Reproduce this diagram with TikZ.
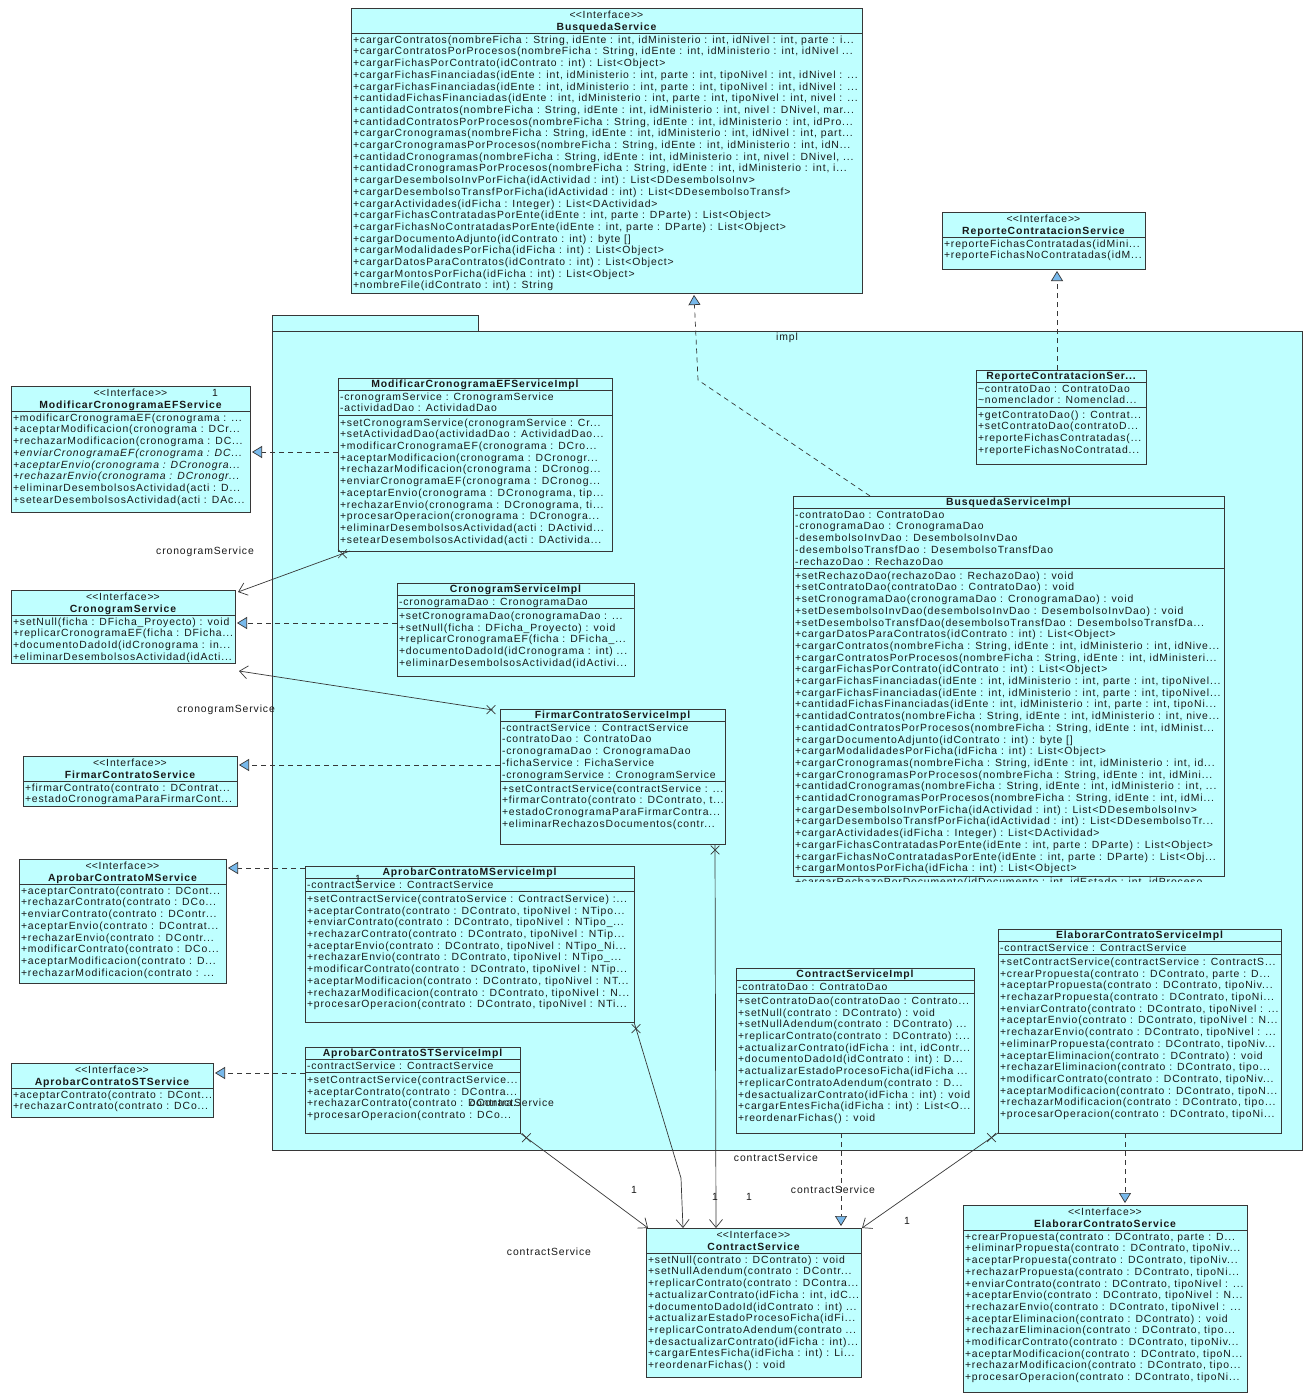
\documentclass[tikz,border=0pt]{standalone}
\usepackage{fontspec}
\setmainfont{Liberation Sans}[LetterSpace=8.5]
\usetikzlibrary{arrows.meta,calc,shapes.misc}

\definecolor{umlfill}{RGB}{191,255,255}
\definecolor{umlline}{RGB}{55,55,55}
\definecolor{umltext}{RGB}{25,25,25}
\definecolor{tipfill}{RGB}{120,185,235}

\newcommand\umlfont{\fontsize{10.4}{11.7}\selectfont}
\newcommand\lh{11.7}
\newcommand\trunc{...}
\newcommand\stereotype{<\kern0pt<Interface>\kern0pt>}

% one text line per member, stacked from a first centre line
\newcommand\memberlist[4]{%
  \foreach \mline [count=\mi] in {#4}{%
    \node[member] (#1-\mi) at (#2,{#3+(\mi-1)*\lh}) {\mline};%
  }%
}

% interface: id, x, y, width, height, name, operations
\newcommand\ifacebox[7]{%
  \node[classbox, minimum width=#4pt, minimum height=#5pt] (#1) at (#2,#3) {};
  \node[stereo] (#1-st) at ($(#1.north)+(0,7.5)$) {\stereotype};
  \node[cname] (#1-nm) at ($(#1.north)+(0,19)$) {#6};
  \draw[sepline] ($(#1.north west)+(0,25.5)$) -- ($(#1.north east)+(0,25.5)$);
  \begin{scope}
    \clip ($(#1.north west)+(0,26)$) rectangle ($(#1.south east)+(-1,0)$);
    \memberlist{#1-op}{#2+2}{#3+32}{#7}
  \end{scope}
}

% class: id, x, y, width, height, name, number of attributes, attributes, operations
\newcommand\implbox[9]{%
  \node[classbox, minimum width=#4pt, minimum height=#5pt] (#1) at (#2,#3) {};
  \node[cname] (#1-nm) at ($(#1.north)+(0,6.5)$) {#6};
  \draw[sepline] ($(#1.north west)+(0,12.5)$) -- ($(#1.north east)+(0,12.5)$);
  \draw[sepline] ($(#1.north west)+(0,{14+#7*\lh})$) -- ($(#1.north east)+(0,{14+#7*\lh})$);
  \begin{scope}
    \clip ($(#1.north west)+(0,13)$) rectangle ($(#1.south east)+(-1,0)$);
    \memberlist{#1-at}{#2+2}{#3+19}{#8}
    \memberlist{#1-op}{#2+2}{#3+21.5+#7*\lh}{#9}
  \end{scope}
}

\begin{document}
\begin{tikzpicture}[x=1pt,y=-1pt,
  classbox/.style={rectangle, draw=umlline, fill=umlfill, line width=0.8pt, inner sep=0pt, outer sep=0pt, anchor=north west},
  pkgbox/.style={classbox},
  member/.style={anchor=west, inner sep=0pt, outer sep=0pt, text height=8.5pt, text depth=2.1pt, font=\umlfont, text=umltext},
  cname/.style={member, anchor=center, font=\umlfont\bfseries},
  stereo/.style={member, anchor=center},
  lbl/.style={member, anchor=center},
  sepline/.style={draw=umlline, line width=0.8pt},
  realize/.style={draw=umlline, line width=0.7pt, dash pattern=on 5pt off 4pt, -{Triangle[length=10pt,width=12pt,fill=tipfill]}},
  assoc/.style={draw=umlline, line width=0.7pt, -{Straight Barb[length=8pt,width=13pt]}},
  xmark/.style={cross out, draw=umlline, line width=0.7pt, minimum size=8pt, inner sep=0pt}]

\useasboundingbox (0,0) rectangle (1315,1397);
\fill[white] (0,0) rectangle (1315,1397);

% package impl
\node[pkgbox, minimum width=206pt, minimum height=16pt] (impltab) at (272,315) {};
\node[pkgbox, minimum width=1030pt, minimum height=819pt] (impl) at (272,331) {};
\node[lbl] (impl-name) at ($(impl.north)+(0,6)$) {impl};

% interfaces
\ifacebox{bs}{351}{8}{511}{285}{BusquedaService}{%
{+cargarContratos(nombreFicha : String, idEnte : int, idMinisterio : int, idNivel : int, parte : i\trunc},
{+cargarContratosPorProcesos(nombreFicha : String, idEnte : int, idMinisterio : int, idNivel \trunc},
{+cargarFichasPorContrato(idContrato : int) : List<Object>},
{+cargarFichasFinanciadas(idEnte : int, idMinisterio : int, parte : int, tipoNivel : int, idNivel : \trunc},
{+cargarFichasFinanciadas(idEnte : int, idMinisterio : int, parte : int, tipoNivel : int, idNivel : \trunc},
{+cantidadFichasFinanciadas(idEnte : int, idMinisterio : int, parte : int, tipoNivel : int, nivel : \trunc},
{+cantidadContratos(nombreFicha : String, idEnte : int, idMinisterio : int, nivel : DNivel, mar\trunc},
{+cantidadContratosPorProcesos(nombreFicha : String, idEnte : int, idMinisterio : int, idPro\trunc},
{+cargarCronogramas(nombreFicha : String, idEnte : int, idMinisterio : int, idNivel : int, part\trunc},
{+cargarCronogramasPorProcesos(nombreFicha : String, idEnte : int, idMinisterio : int, idN\trunc},
{+cantidadCronogramas(nombreFicha : String, idEnte : int, idMinisterio : int, nivel : DNivel, \trunc},
{+cantidadCronogramasPorProcesos(nombreFicha : String, idEnte : int, idMinisterio : int, i\trunc},
{+cargarDesembolsoInvPorFicha(idActividad : int) : List<DDesembolsoInv>},
{+cargarDesembolsoTransfPorFicha(idActividad : int) : List<DDesembolsoTransf>},
{+cargarActividades(idFicha : Integer) : List<DActividad>},
{+cargarFichasContratadasPorEnte(idEnte : int, parte : DParte) : List<Object>},
{+cargarFichasNoContratadasPorEnte(idEnte : int, parte : DParte) : List<Object>},
{+cargarDocumentoAdjunto(idContrato : int) : byte []},
{+cargarModalidadesPorFicha(idFicha : int) : List<Object>},
{+cargarDatosParaContratos(idContrato : int) : List<Object>},
{+cargarMontosPorFicha(idFicha : int) : List<Object>},
{+nombreFile(idContrato : int) : String}}

\ifacebox{rcs}{942}{212}{203}{57}{ReporteContratacionService}{%
{+reporteFichasContratadas(idMini\trunc},
{+reporteFichasNoContratadas(idM\trunc}}

\ifacebox{mces}{11}{386}{239}{126}{ModificarCronogramaEFService}{%
{+modificarCronogramaEF(cronograma : \trunc},
{+aceptarModificacion(cronograma : DCr\trunc},
{+rechazarModificacion(cronograma : DC\trunc},
{\textit{+enviarCronogramaEF(cronograma : DC\trunc}},
{\textit{+aceptarEnvio(cronograma : DCronogra\trunc}},
{\textit{+rechazarEnvio(cronograma : DCronogr\trunc}},
{+eliminarDesembolsosActividad(acti : D\trunc},
{+setearDesembolsosActividad(acti : DAc\trunc}}

\ifacebox{cs}{11}{590}{224}{73}{CronogramService}{%
{+setNull(ficha : DFicha\_Proyecto) : void},
{+replicarCronogramaEF(ficha : DFicha\trunc},
{+documentoDadoId(idCronograma : in\trunc},
{+eliminarDesembolsosActividad(idActi\trunc}}

\ifacebox{fcs}{23}{756}{214}{50}{FirmarContratoService}{%
{+firmarContrato(contrato : DContrat\trunc},
{+estadoCronogramaParaFirmarCont\trunc}}

\ifacebox{acms}{19}{859}{207}{124}{AprobarContratoMService}{%
{+aceptarContrato(contrato : DCont\trunc},
{+rechazarContrato(contrato : DCo\trunc},
{+enviarContrato(contrato : DContr\trunc},
{+aceptarEnvio(contrato : DContrat\trunc},
{+rechazarEnvio(contrato : DContr\trunc},
{+modificarContrato(contrato : DCo\trunc},
{+aceptarModificacion(contrato : D\trunc},
{+rechazarModificacion(contrato : \trunc}}

\ifacebox{acsts}{11}{1063}{202}{54}{AprobarContratoSTService}{%
{+aceptarContrato(contrato : DCont\trunc},
{+rechazarContrato(contrato : DCo\trunc}}

\ifacebox{cserv}{646}{1228}{215}{149}{ContractService}{%
{+setNull(contrato : DContrato) : void},
{+setNullAdendum(contrato : DContr\trunc},
{+replicarContrato(contrato : DContra\trunc},
{+actualizarContrato(idFicha : int, idC\trunc},
{+documentoDadoId(idContrato : int) \trunc},
{+actualizarEstadoProcesoFicha(idFi\trunc},
{+replicarContratoAdendum(contrato \trunc},
{+desactualizarContrato(idFicha : int)\trunc},
{+cargarEntesFicha(idFicha : int) : Li\trunc},
{+reordenarFichas() : void}}

\ifacebox{ecs}{963}{1205}{284}{187}{ElaborarContratoService}{%
{+crearPropuesta(contrato : DContrato, parte : D\trunc},
{+eliminarPropuesta(contrato : DContrato, tipoNiv\trunc},
{+aceptarPropuesta(contrato : DContrato, tipoNiv\trunc},
{+rechazarPropuesta(contrato : DContrato, tipoNi\trunc},
{+enviarContrato(contrato : DContrato, tipoNivel : \trunc},
{+aceptarEnvio(contrato : DContrato, tipoNivel : N\trunc},
{+rechazarEnvio(contrato : DContrato, tipoNivel : \trunc},
{+aceptarEliminacion(contrato : DContrato) : void},
{+rechazarEliminacion(contrato : DContrato, tipo\trunc},
{+modificarContrato(contrato : DContrato, tipoNiv\trunc},
{+aceptarModificacion(contrato : DContrato, tipoN\trunc},
{+rechazarModificacion(contrato : DContrato, tipo\trunc},
{+procesarOperacion(contrato : DContrato, tipoNi\trunc}}

% implementation classes
\implbox{rcsi}{976}{370}{170}{94}{ReporteContratacionSer\trunc}{2}{%
{\textasciitilde contratoDao : ContratoDao},
{\textasciitilde nomenclador : Nomenclad\trunc}}{%
{+getContratoDao() : Contrat\trunc},
{+setContratoDao(contratoD\trunc},
{+reporteFichasContratadas(\trunc},
{+reporteFichasNoContratad\trunc}}

\implbox{mcesi}{338}{378}{274}{173}{ModificarCronogramaEFServiceImpl}{2}{%
{-cronogramService : CronogramService},
{-actividadDao : ActividadDao}}{%
{+setCronogramService(cronogramService : Cr\trunc},
{+setActividadDao(actividadDao : ActividadDao\trunc},
{+modificarCronogramaEF(cronograma : DCro\trunc},
{+aceptarModificacion(cronograma : DCronogr\trunc},
{+rechazarModificacion(cronograma : DCronog\trunc},
{+enviarCronogramaEF(cronograma : DCronog\trunc},
{+aceptarEnvio(cronograma : DCronograma, tip\trunc},
{+rechazarEnvio(cronograma : DCronograma, ti\trunc},
{+procesarOperacion(cronograma : DCronogra\trunc},
{+eliminarDesembolsosActividad(acti : DActivid\trunc},
{+setearDesembolsosActividad(acti : DActivida\trunc}}

\implbox{csi}{397}{583}{237}{93}{CronogramServiceImpl}{1}{%
{-cronogramaDao : CronogramaDao}}{%
{+setCronogramaDao(cronogramaDao : \trunc},
{+setNull(ficha : DFicha\_Proyecto) : void},
{+replicarCronogramaEF(ficha : DFicha\_\trunc},
{+documentoDadoId(idCronograma : int) \trunc},
{+eliminarDesembolsosActividad(idActivi\trunc}}

\implbox{fcsi}{500}{709}{225}{135}{FirmarContratoServiceImpl}{5}{%
{-contractService : ContractService},
{-contratoDao : ContratoDao},
{-cronogramaDao : CronogramaDao},
{-fichaService : FichaService},
{-cronogramService : CronogramService}}{%
{+setContractService(contractService : \trunc},
{+firmarContrato(contrato : DContrato, t\trunc},
{+estadoCronogramaParaFirmarContra\trunc},
{+eliminarRechazosDocumentos(contr\trunc}}

\implbox{acmsi}{305}{866}{329}{156}{AprobarContratoMServiceImpl}{1}{%
{-contractService : ContractService}}{%
{+setContractService(contratoService : ContractService) :\trunc},
{+aceptarContrato(contrato : DContrato, tipoNivel : NTipo\trunc},
{+enviarContrato(contrato : DContrato, tipoNivel : NTipo\_\trunc},
{+rechazarContrato(contrato : DContrato, tipoNivel : NTip\trunc},
{+aceptarEnvio(contrato : DContrato, tipoNivel : NTipo\_Ni\trunc},
{+rechazarEnvio(contrato : DContrato, tipoNivel : NTipo\_\trunc},
{+modificarContrato(contrato : DContrato, tipoNivel : NTip\trunc},
{+aceptarModificacion(contrato : DContrato, tipoNivel : NT\trunc},
{+rechazarModificacion(contrato : DContrato, tipoNivel : N\trunc},
{+procesarOperacion(contrato : DContrato, tipoNivel : NTi\trunc}}

\implbox{acstsi}{305}{1047}{215}{86}{AprobarContratoSTServiceImpl}{1}{%
{-contractService : ContractService}}{%
{+setContractService(contractService\trunc},
{+aceptarContrato(contrato : DContra\trunc},
{+rechazarContrato(contrato : DContra\trunc},
{+procesarOperacion(contrato : DCo\trunc}}

\implbox{bsi}{793}{496}{431}{380}{BusquedaServiceImpl}{5}{%
{-contratoDao : ContratoDao},
{-cronogramaDao : CronogramaDao},
{-desembolsoInvDao : DesembolsoInvDao},
{-desembolsoTransfDao : DesembolsoTransfDao},
{-rechazoDao : RechazoDao}}{%
{+setRechazoDao(rechazoDao : RechazoDao) : void},
{+setContratoDao(contratoDao : ContratoDao) : void},
{+setCronogramaDao(cronogramaDao : CronogramaDao) : void},
{+setDesembolsoInvDao(desembolsoInvDao : DesembolsoInvDao) : void},
{+setDesembolsoTransfDao(desembolsoTransfDao : DesembolsoTransfDa\trunc},
{+cargarDatosParaContratos(idContrato : int) : List<Object>},
{+cargarContratos(nombreFicha : String, idEnte : int, idMinisterio : int, idNive\trunc},
{+cargarContratosPorProcesos(nombreFicha : String, idEnte : int, idMinisteri\trunc},
{+cargarFichasPorContrato(idContrato : int) : List<Object>},
{+cargarFichasFinanciadas(idEnte : int, idMinisterio : int, parte : int, tipoNivel\trunc},
{+cargarFichasFinanciadas(idEnte : int, idMinisterio : int, parte : int, tipoNivel\trunc},
{+cantidadFichasFinanciadas(idEnte : int, idMinisterio : int, parte : int, tipoNi\trunc},
{+cantidadContratos(nombreFicha : String, idEnte : int, idMinisterio : int, nive\trunc},
{+cantidadContratosPorProcesos(nombreFicha : String, idEnte : int, idMinist\trunc},
{+cargarDocumentoAdjunto(idContrato : int) : byte []},
{+cargarModalidadesPorFicha(idFicha : int) : List<Object>},
{+cargarCronogramas(nombreFicha : String, idEnte : int, idMinisterio : int, id\trunc},
{+cargarCronogramasPorProcesos(nombreFicha : String, idEnte : int, idMini\trunc},
{+cantidadCronogramas(nombreFicha : String, idEnte : int, idMinisterio : int, \trunc},
{+cantidadCronogramasPorProcesos(nombreFicha : String, idEnte : int, idMi\trunc},
{+cargarDesembolsoInvPorFicha(idActividad : int) : List<DDesembolsoInv>},
{+cargarDesembolsoTransfPorFicha(idActividad : int) : List<DDesembolsoTr\trunc},
{+cargarActividades(idFicha : Integer) : List<DActividad>},
{+cargarFichasContratadasPorEnte(idEnte : int, parte : DParte) : List<Object>},
{+cargarFichasNoContratadasPorEnte(idEnte : int, parte : DParte) : List<Obj\trunc},
{+cargarMontosPorFicha(idFicha : int) : List<Object>}}
% last operation line, cut off below the frame
\begin{scope}
  \clip ($(bsi.south west)+(0,0.6)$) rectangle ($(bsi.south east)+(-1,5.5)$);
  \node[member] (bsi-op-27) at ($(bsi.south west)+(2,5.8)$) {+cargarRechazoPorDocumento(idDocumento : int, idEstado : int, idProceso};
\end{scope}

\implbox{csimpl}{736}{968}{238}{165}{ContractServiceImpl}{1}{%
{-contratoDao : ContratoDao}}{%
{+setContratoDao(contratoDao : Contrato\trunc},
{+setNull(contrato : DContrato) : void},
{+setNullAdendum(contrato : DContrato) \trunc},
{+replicarContrato(contrato : DContrato) :\trunc},
{+actualizarContrato(idFicha : int, idContr\trunc},
{+documentoDadoId(idContrato : int) : D\trunc},
{+actualizarEstadoProcesoFicha(idFicha \trunc},
{+replicarContratoAdendum(contrato : D\trunc},
{+desactualizarContrato(idFicha : int) : void},
{+cargarEntesFicha(idFicha : int) : List<O\trunc},
{+reordenarFichas() : void}}

\implbox{ecsi}{998}{929}{283}{204}{ElaborarContratoServiceImpl}{1}{%
{-contractService : ContractService}}{%
{+setContractService(contractService : ContractS\trunc},
{+crearPropuesta(contrato : DContrato, parte : D\trunc},
{+aceptarPropuesta(contrato : DContrato, tipoNiv\trunc},
{+rechazarPropuesta(contrato : DContrato, tipoNi\trunc},
{+enviarContrato(contrato : DContrato, tipoNivel : \trunc},
{+aceptarEnvio(contrato : DContrato, tipoNivel : N\trunc},
{+rechazarEnvio(contrato : DContrato, tipoNivel : \trunc},
{+eliminarPropuesta(contrato : DContrato, tipoNiv\trunc},
{+aceptarEliminacion(contrato : DContrato) : void},
{+rechazarEliminacion(contrato : DContrato, tipo\trunc},
{+modificarContrato(contrato : DContrato, tipoNiv\trunc},
{+aceptarModificacion(contrato : DContrato, tipoN\trunc},
{+rechazarModificacion(contrato : DContrato, tipo\trunc},
{+procesarOperacion(contrato : DContrato, tipoNi\trunc}}

% realizations
\draw[realize] ($(bsi.north west)+(77,0)$) -- ($(bs.south west)+(347,87)$) -- ($(bs.south west)+(343,2)$);
\draw[realize] ($(rcsi.north west)+(81,0)$) -- ($(rcs.south west)+(115,2)$);
\draw[realize] ($(mcesi.north west)+(0,74)$) -- ($(mces.north east)+(2,66)$);
\draw[realize] ($(csi.north west)+(0,40)$) -- ($(cs.north east)+(2,33)$);
\draw[realize] ($(fcsi.north west)+(0,56)$) -- ($(fcs.north east)+(2,9)$);
\draw[realize] ($(acmsi.north west)+(0,2)$) -- ($(acms.north east)+(2,9)$);
\draw[realize] ($(acstsi.north west)+(0,26)$) -- ($(acsts.north east)+(2,10)$);
\draw[realize] ($(csimpl.south west)+(105,0)$) -- ($(cserv.north west)+(195,-2)$);
\draw[realize] ($(ecsi.south west)+(127,0)$) -- ($(ecs.north west)+(162,-2)$);

% directed associations
\coordinate (a1s) at ($(mcesi.south west)+(12,0)$);
\coordinate (a1e) at ($(cs.north east)+(3,2)$);
\coordinate (a2s) at ($(fcsi.north west)+(-7,1)$);
\coordinate (a2e) at ($(cs.south east)+(4,8)$);
\coordinate (a3s) at ($(fcsi.south west)+(215,0)$);
\coordinate (a3e) at ($(cserv.north west)+(70,0)$);
\coordinate (a4s) at ($(acmsi.south east)+(0,0)$);
\coordinate (a4m) at ($(cserv.north west)+(35,-50)$);
\coordinate (a4e) at ($(cserv.north west)+(37,0)$);
\coordinate (a5s) at ($(acstsi.south east)+(0,0)$);
\coordinate (a5e) at ($(cserv.north west)+(2,0)$);
\coordinate (a6s) at ($(ecsi.south west)+(0,0)$);
\coordinate (a6e) at ($(cserv.north east)+(1,0)$);

\draw[assoc] (a1s) -- (a1e);
\draw[assoc] (a2s) -- (a2e);
\draw[assoc] (a3s) -- (a3e);
\draw[assoc] (a4s) -- (a4m) -- (a4e);
\draw[assoc] (a5s) -- (a5e);
\draw[assoc] (a6s) -- (a6e);

\node[xmark] (a1x) at ($(a1s)!8pt!(a1e)$) {};
\node[xmark] (a2x) at ($(a2s)!2pt!(a2e)$) {};
\node[xmark] (a3x) at ($(a3s)!6pt!(a3e)$) {};
\node[xmark] (a4x) at ($(a4s)!7pt!(a4m)$) {};
\node[xmark] (a5x) at ($(a5s)!8pt!(a5e)$) {};
\node[xmark] (a6x) at ($(a6s)!8pt!(a6e)$) {};

% role names and multiplicities
\node[lbl] (m1) at (215,393) {1};
\node[lbl] (rolecs1) at (205,551) {cronogramService};
\node[lbl] (rolecs2) at (226,709) {cronogramService};
\node[lbl] (m2) at (358,879) {1};
\node[lbl] (rolec1) at (512,1103) {contractService};
\node[lbl] (rolec2) at (776,1158) {contractService};
\node[lbl] (rolec3) at (833,1190) {contractService};
\node[lbl] (rolec4) at (549,1252) {contractService};
\node[lbl] (m3) at (634,1190) {1};
\node[lbl] (m4) at (715,1197) {1};
\node[lbl] (m5) at (749,1197) {1};
\node[lbl] (m6) at (907,1221) {1};

\end{tikzpicture}
\end{document}
